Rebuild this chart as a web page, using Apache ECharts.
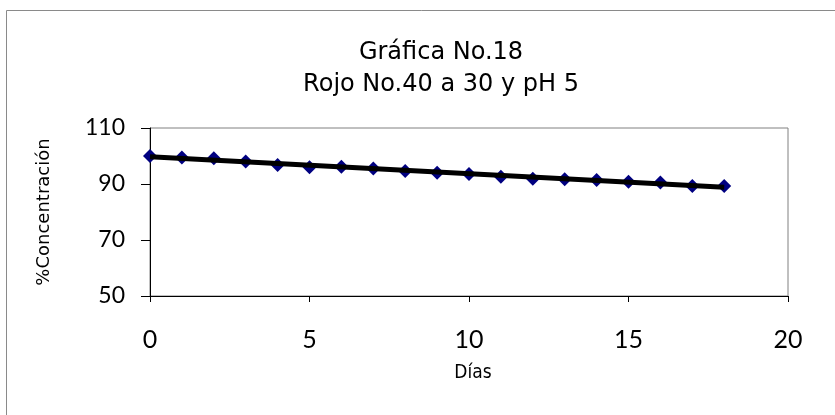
<!DOCTYPE html>
<html>
<head>
<meta charset="utf-8">
<script src="https://cdn.jsdelivr.net/npm/echarts@6/dist/echarts.min.js"></script>
<style>
  html, body { margin: 0; padding: 0; background: #fff; }
  #chart { width: 835px; height: 415px; }
</style>
</head>
<body>
<div id="chart"></div>
<script>
// Días de muestreo y % de concentración medida
const dias = [0, 1, 2, 3, 4, 5, 6, 7, 8, 9, 10, 11, 12, 13, 14, 15, 16, 17, 18];
const concentracion = [100, 99.5, 99.2, 98.0, 96.8, 96.0, 96.2, 95.5, 94.6, 94.0, 93.6, 92.6, 91.9, 91.7, 91.4, 90.8, 90.5, 89.3, 89.3];
const yTicks = [50, 70, 90, 110];
const xTicks = [0, 5, 10, 15, 20];

// Línea de tendencia lineal (mínimos cuadrados)
function tendencia(xs, ys) {
  const n = xs.length;
  let sx = 0, sy = 0, sxx = 0, sxy = 0;
  for (let i = 0; i < n; i++) {
    sx += xs[i]; sy += ys[i]; sxx += xs[i] * xs[i]; sxy += xs[i] * ys[i];
  }
  const m = (n * sxy - sx * sy) / (n * sxx - sx * sx);
  const b = (sy - m * sx) / n;
  const x0 = xs[0], x1 = xs[n - 1];
  return [[x0, m * x0 + b], [x1, m * x1 + b]];
}

const fuenteTitulo = '"DejaVu Sans", "Open Sans", sans-serif';
const fuenteNum = 'Lato, "Open Sans", sans-serif';
const chart = echarts.init(document.getElementById('chart'));

chart.setOption({
  animation: false,
  backgroundColor: '#fff',
  title: {
    text: 'Gráfica No.18\nRojo No.40 a 30 y pH 5',
    left: 436,
    textAlign: 'center',
    top: 32,
    textStyle: { fontFamily: fuenteTitulo, fontSize: 24, fontWeight: 'normal', color: '#000', lineHeight: 32 }
  },
  graphic: [{
    type: 'rect',
    shape: { x: 6.5, y: 10.5, width: 840, height: 420 },
    style: { fill: 'none', stroke: '#8a8a8a', lineWidth: 1 },
    silent: true
  }],
  grid: { left: 150, right: 47, top: 128, bottom: 119, show: true, borderColor: '#808080', borderWidth: 1 },
  xAxis: {
    type: 'value',
    min: xTicks[0], max: xTicks[xTicks.length - 1], interval: 5,
    name: 'Días', nameLocation: 'middle', nameGap: 68,
    nameTextStyle: { fontFamily: '"DejaVu Sans Condensed", "DejaVu Sans", sans-serif', fontSize: 19, color: '#000', padding: [0, 0, 0, 8] },
    axisLine: { show: true, lineStyle: { color: '#000', width: 1 } },
    axisTick: { show: true, length: 6, lineStyle: { color: '#000' } },
    axisLabel: { fontFamily: fuenteNum, fontSize: 25, color: '#000', margin: 31 },
    splitLine: { show: false }
  },
  yAxis: {
    type: 'value',
    min: yTicks[0], max: yTicks[yTicks.length - 1], interval: 20,
    name: '%Concentración', nameLocation: 'middle', nameGap: 97, nameRotate: 90,
    nameTextStyle: { fontFamily: fuenteTitulo, fontSize: 18, color: '#000' },
    axisLine: { show: true, lineStyle: { color: '#000', width: 1 } },
    axisTick: { show: true, length: 9, lineStyle: { color: '#000' } },
    axisLabel: { fontFamily: fuenteNum, fontSize: 23, color: '#000', margin: 25 },
    splitLine: { show: false }
  },
  series: [
    {
      type: 'line',
      data: dias.map((d, i) => [d, concentracion[i]]),
      lineStyle: { width: 0 },
      symbol: 'diamond',
      symbolSize: 14,
      itemStyle: { color: '#000080', borderWidth: 0 },
      z: 2
    },
    {
      type: 'line',
      data: tendencia(dias, concentracion),
      symbol: 'none',
      lineStyle: { color: '#000', width: 5 },
      z: 3
    }
  ]
});
</script>
</body>
</html>
